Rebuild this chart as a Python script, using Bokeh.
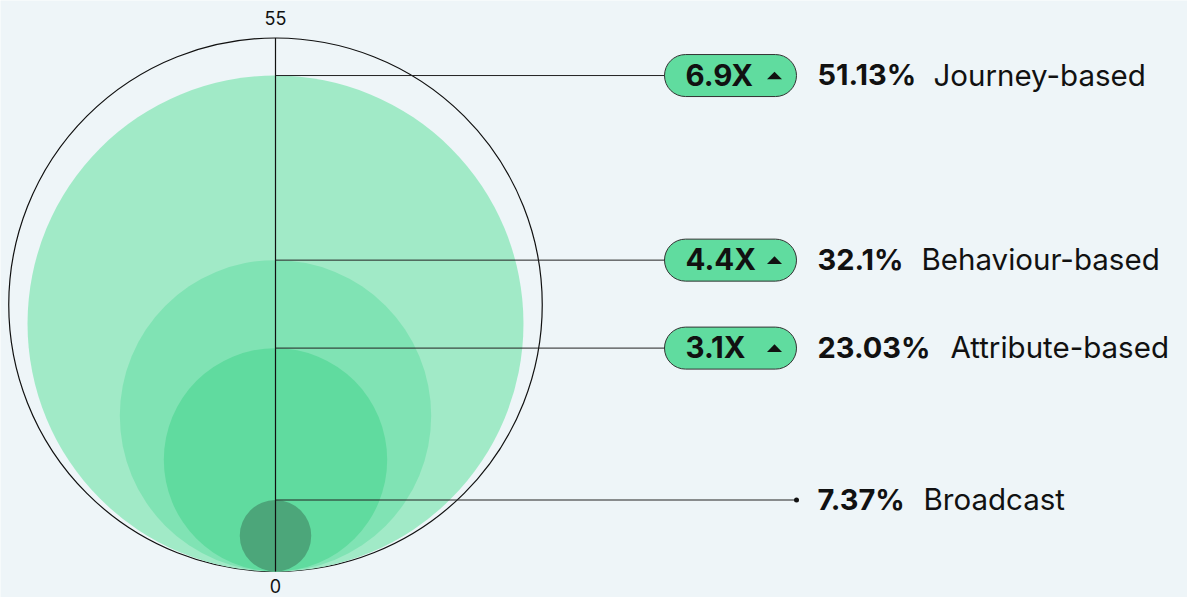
from bokeh.plotting import figure
from bokeh.models import Range1d, BoxAnnotation
from bokeh.core.properties import value
from bokeh.embed import file_html
from bokeh.resources import INLINE

# ---- data ----
segments = ["Journey-based", "Behaviour-based", "Attribute-based", "Broadcast"]
shares = [51.13, 32.1, 23.03, 7.37]
share_labels = ["51.13%", "32.1%", "23.03%", "7.37%"]
uplift = ["6.9X", "4.4X", "3.1X", None]
axis_max = 55
axis_ticks = ["0", "55"]

# ---- layout (pixel geometry of the reference) ----
W, H = 1187, 597
OFF = 0
CX = 275                     # reference x of the axis
ZERO_Y = 571                 # reference y of value 0
S = (ZERO_Y - 37.5) / axis_max  # px per unit

def X(px):
    return (px - CX) / S

BG = "#EEF5F8"
circle_colors = ["#A1EAC7", "#80E3B4", "#60DB9F", "#4CA67A"]
FONT = value("Inter")

p = figure(width=W, height=H, output_backend="svg", toolbar_location=None,
           x_range=Range1d(X(OFF), X(OFF + W)),
           y_range=Range1d((ZERO_Y - (OFF + H)) / S, (ZERO_Y - OFF) / S),
           min_border=0, background_fill_color=BG, border_fill_color=BG,
           outline_line_color=None)
p.axis.visible = False
p.grid.visible = False

# outer reference circle
p.circle(x=[0], y=[axis_max / 2], radius=axis_max / 2, fill_color=None,
         line_color="#111111", line_width=1.2)

# nested circles, all tangent at 0
for v, c in zip(shares, circle_colors):
    p.circle(x=[0], y=[v / 2], radius=v / 2, fill_color=c, line_color=None)

# vertical axis
p.line(x=[0, 0], y=[0, axis_max], line_color="#111111", line_width=1.2)
p.text(x=[0, 0], y=[0, axis_max], text=axis_ticks, text_align="center",
       text_baseline="middle", y_offset=[14, -20], text_font=FONT,
       text_font_size="18px", text_color="#111111")

PILL_L, PILL_R, PILL_H = 664, 796, 21
TRI_X, TRI_HW, TRI_HH = 774, 7.5, 3.8
for seg, v, lab, up in zip(segments, shares, share_labels, uplift):
    if up is not None:
        p.line(x=[0, X(PILL_L)], y=[v, v], line_color="#222222", line_width=1)
        p.add_layout(BoxAnnotation(left=X(PILL_L), right=X(PILL_R),
                                   bottom=v - PILL_H / S, top=v + PILL_H / S,
                                   fill_color="#60DC9F", fill_alpha=1,
                                   line_color="#333333", line_width=1,
                                   line_alpha=1, border_radius=21,
                                   level="underlay"))
        p.text(x=[X(685)], y=[v], text=[up], text_baseline="middle",
               text_font=FONT, text_font_size="29.5px", text_font_style="bold",
               text_color="#111111", y_offset=[-1])
        p.patch(x=[X(TRI_X - TRI_HW), X(TRI_X + TRI_HW), X(TRI_X)],
                y=[v - TRI_HH / S, v - TRI_HH / S, v + TRI_HH / S],
                fill_color="#111111", line_color=None)
    else:
        p.line(x=[0, X(796)], y=[v, v], line_color="#222222", line_width=1)
        p.scatter(x=[X(796)], y=[v], size=5, fill_color="#111111",
                  line_color=None)

name_x = [933, 921, 950, 923]
for v, lab, seg, nx in zip(shares, share_labels, segments, name_x):
    p.text(x=[X(817)], y=[v], text=[lab], text_baseline="middle",
           text_font=FONT, text_font_size="29px", text_font_style="bold",
           text_color="#111111", y_offset=[-1])
    p.text(x=[X(nx)], y=[v], text=[seg], text_baseline="middle",
           text_font=FONT, text_font_size="29.5px", text_color="#111111",
           y_offset=[-1])

open("out.html", "w").write(file_html(p, INLINE))
